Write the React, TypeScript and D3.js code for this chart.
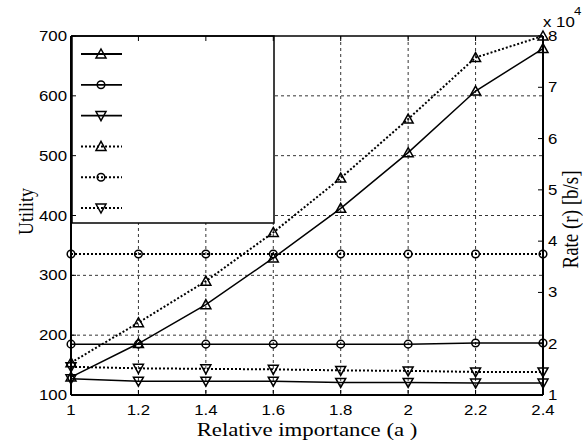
import * as d3 from "d3";

const width = 583;
const height = 441;
const marginTop = 36;
const marginBottom = 46;
const marginLeft = 71;
const marginRight = 40;

// x values and tick labels
const importance = [1, 1.2, 1.4, 1.6, 1.8, 2, 2.2, 2.4];
const xTickLabels = ["1", "1.2", "1.4", "1.6", "1.8", "2", "2.2", "2.4"];
const utilityTicks = [100, 200, 300, 400, 500, 600, 700];
const rateTicks = [1, 2, 3, 4, 5, 6, 7, 8]; // x 10^4

// utility series (left axis, solid)
const utilityUp = [130, 186, 251, 329, 412, 505, 608, 679];
const utilityCircle = [185, 185, 185, 185, 185, 185, 187, 187];
const utilityDown = [127, 123, 123, 123, 121, 121, 120, 120];

// rate series (right axis, dotted), in b/s
const rateUp = [16300, 24100, 32200, 41700, 52300, 63800, 75800, 80000];
const rateCircle = [37500, 37500, 37500, 37500, 37500, 37500, 37500, 37500];
const rateDown = [15500, 15200, 15100, 15000, 14800, 14700, 14500, 14500];

const series = [
  { key: "u-up", values: utilityUp, axis: "left", marker: "up", dotted: false },
  { key: "u-circle", values: utilityCircle, axis: "left", marker: "circle", dotted: false },
  { key: "u-down", values: utilityDown, axis: "left", marker: "down", dotted: false },
  { key: "r-up", values: rateUp, axis: "right", marker: "up", dotted: true },
  { key: "r-circle", values: rateCircle, axis: "right", marker: "circle", dotted: true },
  { key: "r-down", values: rateDown, axis: "right", marker: "down", dotted: true },
];

const sansFont = "'Liberation Sans', Arial, sans-serif";
const serifFont = "'Liberation Serif', 'Times New Roman', serif";
const stretch = 1.2;

const Marker = ({ type, x, y }) => {
  if (type === "circle") {
    return <circle cx={x} cy={y} r={3.8} fill="none" stroke="#000" strokeWidth={1.5} />;
  }
  const pts =
    type === "up"
      ? [[0, -5], [5, 4], [-5, 4]]
      : [[0, 5], [5, -4], [-5, -4]];
  return (
    <polygon
      points={pts.map(([dx, dy]) => `${x + dx},${y + dy}`).join(" ")}
      fill="none"
      stroke="#000"
      strokeWidth={1.5}
    />
  );
};

const Label = ({ x, y, anchor = "middle", size = 14, family = sansFont, children }) => (
  <text
    transform={`translate(${x},${y}) scale(${stretch},1)`}
    textAnchor={anchor}
    fontSize={size}
    fontFamily={family}
    fill="#000"
  >
    {children}
  </text>
);

const App = () => {
  const plotBottom = height - marginBottom;
  const plotRight = width - marginRight;

  const xScale = d3.scaleLinear().domain([1, 2.4]).range([marginLeft, plotRight]);
  const yLeft = d3.scaleLinear().domain([100, 700]).range([plotBottom, marginTop]);
  const yRight = d3.scaleLinear().domain([10000, 80000]).range([plotBottom, marginTop]);

  const lineFor = (s) =>
    d3
      .line()
      .x((d, i) => xScale(importance[i]))
      .y((d) => (s.axis === "left" ? yLeft(d) : yRight(d)))(s.values);

  // legend
  const legendX = marginLeft;
  const legendW = 202;
  const legendH = 187;
  const legendY = d3
    .scalePoint()
    .domain(series.map((s) => s.key))
    .range([marginTop + 18, marginTop + 172]);

  return (
    <svg
      width={width}
      height={height}
      style={{ position: "absolute", left: 0, top: 0, background: "#fff" }}
    >
      <rect width={width} height={height} fill="#fff" />

      {/* grid */}
      <g stroke="#000" strokeWidth={0.8} strokeDasharray="3,3">
        {importance.slice(1, -1).map((v) => (
          <line key={v} x1={xScale(v)} x2={xScale(v)} y1={marginTop} y2={plotBottom} />
        ))}
        {utilityTicks.slice(1, -1).map((v) => (
          <line key={v} x1={marginLeft} x2={plotRight} y1={yLeft(v)} y2={yLeft(v)} />
        ))}
      </g>

      {/* legend box */}
      <rect
        x={legendX + 1}
        y={marginTop}
        width={legendW}
        height={legendH}
        fill="#fff"
        stroke="#000"
        strokeWidth={1.5}
      />
      {series.map((s) => {
        const ly = legendY(s.key);
        return (
          <g key={s.key}>
            <line
              x1={legendX + 10}
              x2={legendX + 51}
              y1={ly}
              y2={ly}
              stroke="#000"
              strokeWidth={s.dotted ? 2 : 1.8}
              strokeDasharray={s.dotted ? "2,2" : null}
            />
            <Marker type={s.marker} x={legendX + 30} y={ly} />
          </g>
        );
      })}

      {/* data */}
      {series.map((s) => (
        <g key={s.key}>
          <path
            d={lineFor(s)}
            fill="none"
            stroke="#000"
            strokeWidth={s.dotted ? 2 : 1.5}
            strokeDasharray={s.dotted ? "2,2" : null}
          />
          {s.values.map((v, i) => (
            <Marker
              key={i}
              type={s.marker}
              x={xScale(importance[i])}
              y={s.axis === "left" ? yLeft(v) : yRight(v)}
            />
          ))}
        </g>
      ))}

      {/* axes frame */}
      <g stroke="#000" strokeWidth={2} fill="none">
        <line x1={marginLeft} x2={marginLeft} y1={marginTop} y2={plotBottom} />
        <line x1={plotRight} x2={plotRight} y1={marginTop} y2={plotBottom} />
        <line x1={marginLeft} x2={plotRight} y1={plotBottom} y2={plotBottom} />
        <line x1={marginLeft} x2={plotRight} y1={marginTop} y2={marginTop} strokeWidth={1.5} />
      </g>

      {/* ticks */}
      <g stroke="#000" strokeWidth={1}>
        {importance.map((v) => (
          <g key={v}>
            <line x1={xScale(v)} x2={xScale(v)} y1={plotBottom} y2={plotBottom - 5} />
            <line x1={xScale(v)} x2={xScale(v)} y1={marginTop} y2={marginTop + 5} />
          </g>
        ))}
        {utilityTicks.map((v) => (
          <line key={v} x1={marginLeft} x2={marginLeft + 5} y1={yLeft(v)} y2={yLeft(v)} />
        ))}
        {rateTicks.map((v) => (
          <line key={v} x1={plotRight} x2={plotRight - 5} y1={yRight(v * 10000)} y2={yRight(v * 10000)} />
        ))}
      </g>

      {/* tick labels */}
      {importance.map((v, i) => (
        <Label key={v} x={xScale(v)} y={plotBottom + 20}>
          {xTickLabels[i]}
        </Label>
      ))}
      {utilityTicks.map((v) => (
        <Label key={v} x={marginLeft - 4} y={yLeft(v) + 5} anchor="end">
          {v}
        </Label>
      ))}
      {rateTicks.map((v) => (
        <Label key={v} x={plotRight + 5} y={yRight(v * 10000) + 5} anchor="start">
          {v}
        </Label>
      ))}
      <Label x={plotRight} y={27} anchor="start">
        x 10
      </Label>
      <Label x={574} y={15} anchor="start" size={11}>
        4
      </Label>

      {/* axis titles */}
      <Label x={(marginLeft + plotRight) / 2} y={436} size={19} family={serifFont}>
        Relative importance (a  )
      </Label>
      <text
        transform={`translate(33,${(marginTop + plotBottom) / 2 - 4}) rotate(-90) scale(1,${stretch})`}
        textAnchor="middle"
        fontSize={18}
        fontFamily={serifFont}
      >
        Utility
      </text>
      <text
        transform={`translate(578,${(marginTop + plotBottom) / 2 + 4}) rotate(-90) scale(1,${stretch})`}
        textAnchor="middle"
        fontSize={19}
        fontFamily={serifFont}
      >
        Rate (r) [b/s]
      </text>
    </svg>
  );
};

export default App;
